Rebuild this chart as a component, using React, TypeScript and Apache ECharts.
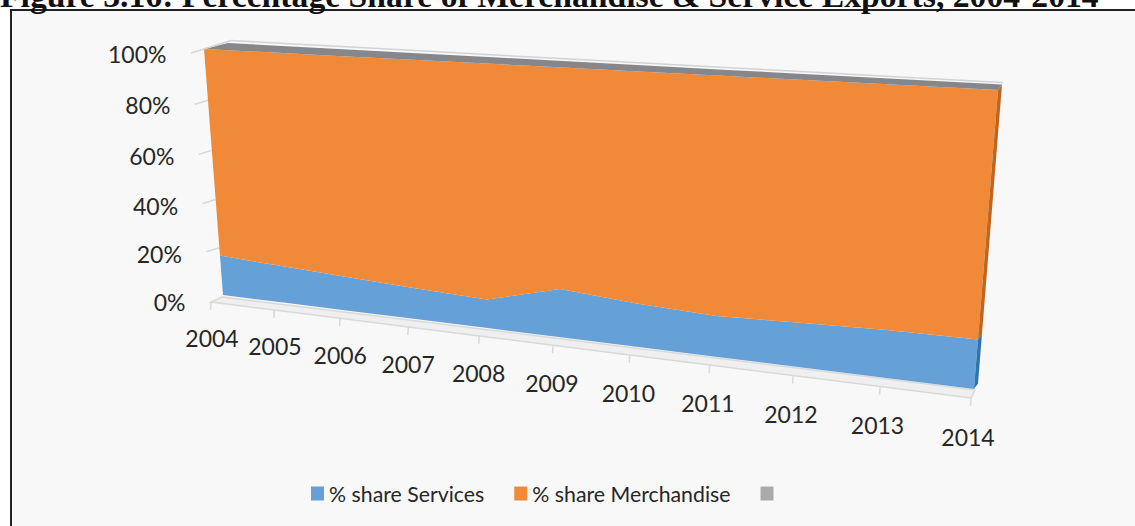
import React, { useEffect, useRef } from "react";
import * as echarts from "echarts";

// ---------------- data ----------------
const years = ["2004", "2005", "2006", "2007", "2008", "2009", "2010", "2011", "2012", "2013", "2014"];
const servicesShare = [16.7, 15.2, 13.8, 12.4, 11.3, 18.7, 16.5, 15.2, 16.2, 17.1, 17.4];
const merchandiseShare = [83.3, 84.8, 86.2, 87.6, 88.7, 81.3, 83.5, 84.8, 83.8, 82.9, 82.6];
const otherShare = [0, 0, 0, 0, 0, 0, 0, 0, 0, 0, 0];
const yTickValues = [0, 20, 40, 60, 80, 100];
const yTickLabels = ["0%", "20%", "40%", "60%", "80%", "100%"];
const seriesNames = ["% share Services", "% share Merchandise", " "];
const titleText = "Figure 3.16: Percentage Share of Merchandise & Service Exports, 2004-2014";

// ---------------- style ----------------
const C = {
  services: "#65a1d6",
  servicesSide: "#2f74b0",
  merch: "#f18a38",
  merchSide: "#c0651f",
  topFace: "#86878b",
  other: "#a9aaae",
  wall: "#d9d9d9",
  floorFill: "#efefef",
  text: "#262626",
};
const FONT = "Lato";

// perspective: front plane corners (unit square -> screen)
const Q = [
  [223, 295], // u=0, v=0
  [974, 389], // u=1, v=0
  [998, 90], // u=1, v=1
  [204, 49], // u=0, v=1
];

function squareToQuad(q: number[][]) {
  const [x0, y0] = q[0], [x1, y1] = q[1], [x2, y2] = q[2], [x3, y3] = q[3];
  const dx1 = x1 - x2, dx2 = x3 - x2, dx3 = x0 - x1 + x2 - x3;
  const dy1 = y1 - y2, dy2 = y3 - y2, dy3 = y0 - y1 + y2 - y3;
  const den = dx1 * dy2 - dx2 * dy1;
  const g = (dx3 * dy2 - dx2 * dy3) / den;
  const h = (dx1 * dy3 - dx3 * dy1) / den;
  const a = x1 - x0 + g * x1, b = x3 - x0 + h * x3, c = x0;
  const d = y1 - y0 + g * y1, e = y3 - y0 + h * y3, f = y0;
  return (u: number, v: number) => {
    const w = g * u + h * v + 1;
    return [(a * u + b * v + c) / w, (d * u + e * v + f) / w];
  };
}
const H = squareToQuad(Q);

const lerp = (a: number[], b: number[], t: number) => [a[0] + (b[0] - a[0]) * t, a[1] + (b[1] - a[1]) * t];
const add = (p: number[], o: number[]) => [p[0] + o[0], p[1] + o[1]];

// offsets (pixels) at u=0 and u=1
const TOP_DEPTH = [[24, -6], [4, -5.5]];
const BACK_LINE = [[27, -8.5], [5, -7.5]];
const FLOOR_BACK = [[-1, 2], [1, 1]];
const FLOOR_FRONT = [[-12, 7], [-3, 9]];
const XLABEL_OFF = [[-11, 43], [-6, 48]];

function makeProj(params: any, api: any) {
  const cs = params.coordSys;
  return (i: number, val: number) => {
    const p = api.coord([i, val]);
    const u = (p[0] - cs.x) / cs.width;
    const v = (cs.y + cs.height - p[1]) / cs.height;
    return { pt: H(u, v), u, v };
  };
}

function cumulative(layers: number[][], upto: number) {
  return years.map((_, i) => {
    let s = 0;
    for (let k = 0; k < upto; k++) s += layers[k][i];
    return s;
  });
}
const layers = [servicesShare, merchandiseShare, otherShare];

function layerRender(k: number, fill: string, side: string) {
  return (params: any, api: any) => {
    const P = makeProj(params, api);
    const lo = cumulative(layers, k);
    const hi = cumulative(layers, k + 1);
    const n = years.length;
    const bottom = years.map((_, i) => P(i, lo[i]).pt);
    const top = years.map((_, i) => P(i, hi[i]).pt).reverse();
    const dR = TOP_DEPTH[1];
    const a = P(n - 1, lo[n - 1]).pt, b = P(n - 1, hi[n - 1]).pt;
    return {
      type: "group",
      children: [
        { type: "polygon", shape: { points: [...bottom, ...top] }, style: { fill } },
        { type: "polygon", shape: { points: [a, b, add(b, dR), add(a, dR)] }, style: { fill: side } },
      ],
    };
  };
}

function topRender(params: any, api: any) {
  const P = makeProj(params, api);
  const tot = cumulative(layers, 3);
  const front = years.map((_, i) => P(i, tot[i]));
  const back = front.map((f) => add(f.pt, lerp(TOP_DEPTH[0], TOP_DEPTH[1], f.u)));
  const backLine = front.map((f) => add(f.pt, lerp(BACK_LINE[0], BACK_LINE[1], f.u)));
  return {
    type: "group",
    children: [
      { type: "polyline", shape: { points: backLine }, style: { stroke: "#d2d3d5", lineWidth: 1.5, fill: null } },
      {
        type: "polygon",
        shape: { points: [...front.map((f) => f.pt), ...back.slice().reverse()] },
        style: { fill: C.topFace },
      },
      {
        type: "line",
        shape: { x1: front[0].pt[0], y1: front[0].pt[1], x2: backLine[0][0], y2: backLine[0][1] },
        style: { stroke: "#d2d3d5", lineWidth: 1.5 },
      },
    ],
  };
}

function axesRender(params: any, api: any) {
  const P = makeProj(params, api);
  const children: any[] = [];
  const base = years.map((_, i) => P(i, 0));
  const fBack = base.map((b) => add(b.pt, lerp(FLOOR_BACK[0], FLOOR_BACK[1], b.u)));
  const fFront = base.map((b) => add(b.pt, lerp(FLOOR_FRONT[0], FLOOR_FRONT[1], b.u)));
  children.push({
    type: "polygon",
    shape: { points: [...fBack, ...fFront.slice().reverse()] },
    style: { fill: C.floorFill, stroke: C.wall, lineWidth: 1.5 },
  });
  fFront.forEach((p) => {
    children.push({
      type: "line",
      shape: { x1: p[0], y1: p[1], x2: p[0] - 0.5, y2: p[1] + 8 },
      style: { stroke: C.wall, lineWidth: 1.5 },
    });
  });
  base.forEach((b, i) => {
    const o = lerp(XLABEL_OFF[0], XLABEL_OFF[1], b.u);
    children.push({
      type: "text",
      x: b.pt[0] + o[0],
      y: b.pt[1] + o[1],
      style: {
        text: years[i],
        fill: C.text,
        fontSize: 23,
        fontFamily: FONT,
        align: "center",
        verticalAlign: "middle",
      },
    });
  });
  yTickValues.forEach((val, j) => {
    const q = P(0, val);
    if (val > 0) {
      children.push({
        type: "line",
        shape: { x1: q.pt[0] - 13, y1: q.pt[1] + 4, x2: q.pt[0], y2: q.pt[1] },
        style: { stroke: C.wall, lineWidth: 1.5 },
      });
    }
    children.push({
      type: "text",
      x: q.pt[0] - 37.5,
      y: q.pt[1] + 4.5 + 2.5 * (1 - q.v),
      style: {
        text: yTickLabels[j],
        fill: C.text,
        fontSize: 23,
        fontFamily: FONT,
        align: "right",
        verticalAlign: "middle",
      },
    });
  });
  return { type: "group", children };
}

export default function App() {
  const ref = useRef<HTMLDivElement>(null);
  useEffect(() => {
    if (!ref.current) return;
    const chart = echarts.init(ref.current, undefined, { renderer: "svg" });
    const one = [[0, 0]];
    chart.setOption({
      animation: false,
      backgroundColor: "#ffffff",
      grid: { left: 0, right: 0, top: 0, bottom: 0 },
      xAxis: { type: "category", data: years, boundaryGap: false, show: false },
      yAxis: { type: "value", min: 0, max: 100, interval: 20, show: false },
      legend: {
        data: seriesNames,
        left: 306,
        top: 478,
        icon: "rect",
        itemWidth: 13,
        itemHeight: 14,
        itemGap: 30,
        selectedMode: false,
        textStyle: { color: C.text, fontSize: 21.3, fontFamily: FONT },
      },
      graphic: [
        { type: "rect", shape: { x: 10, y: 9, width: 1130, height: 520 }, style: { fill: "#f8f8f9" }, z: -10 },
        {
          type: "line",
          shape: { x1: 10, y1: 10, x2: 1135, y2: 10 },
          style: { stroke: "#222222", lineWidth: 2 },
          z: 10,
        },
        {
          type: "line",
          shape: { x1: 11, y1: 9, x2: 11, y2: 526 },
          style: { stroke: "#222222", lineWidth: 2 },
          z: 10,
        },
        {
          type: "text",
          x: 0,
          y: -4.8,
          style: {
            text: titleText,
            fill: "#111111",
            font: "bold 33.7px 'Liberation Serif', 'Times New Roman', serif",
            align: "left",
            verticalAlign: "middle",
          },
          z: 11,
        },
      ],
      series: [
        {
          name: "axes",
          type: "custom",
          silent: true,
          clip: false,
          z: 1,
          data: one,
          renderItem: axesRender,
        },
        {
          name: seriesNames[0],
          type: "custom",
          silent: true,
          clip: false,
          z: 2,
          itemStyle: { color: C.services },
          data: one,
          renderItem: layerRender(0, C.services, C.servicesSide),
        },
        {
          name: seriesNames[1],
          type: "custom",
          silent: true,
          clip: false,
          z: 3,
          itemStyle: { color: C.merch },
          data: one,
          renderItem: layerRender(1, C.merch, C.merchSide),
        },
        {
          name: seriesNames[2],
          type: "custom",
          silent: true,
          clip: false,
          z: 4,
          itemStyle: { color: C.other },
          data: one,
          renderItem: topRender,
        },
      ],
    });
    return () => chart.dispose();
  }, []);
  return (
    <div
      ref={ref}
      style={{ position: "fixed", left: 0, top: 0, width: 1135, height: 526 }}
    />
  );
}
